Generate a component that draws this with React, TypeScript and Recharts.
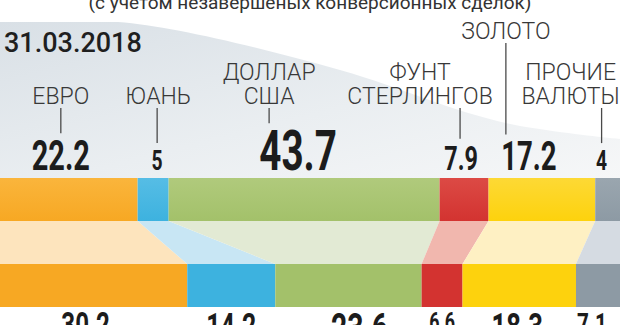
import { BarChart, Bar, XAxis, YAxis, LabelList } from "recharts";

// shares of reserves, %, by period (top row = 31.03.2018)
const periods = ["31.03.2018", "30.06.2018"];
const euro = [22.2, 30.2];
const yuan = [5, 14.2];
const dollar = [43.7, 23.6];
const pound = [7.9, 6.6];
const gold = [17.2, 18.3];
const other = [4, 7.1];

const seriesKeys = ["euro", "yuan", "dollar", "pound", "gold", "other"];
const seriesValues = [euro, yuan, dollar, pound, gold, other];
const currencyNames = [["ЕВРО"], ["ЮАНЬ"], ["ДОЛЛАР", "США"], ["ФУНТ", "СТЕРЛИНГОВ"], ["ЗОЛОТО"], ["ПРОЧИЕ", "ВАЛЮТЫ"]];
const subtitle = "(с учетом незавершеных конверсионных сделок)";

const rows = periods.map((period, i) => {
  const row: any = { period };
  seriesKeys.forEach((k, s) => (row[k] = seriesValues[s][i]));
  return row;
});

// look of each series (colours, label offsets and sizes)
const STYLE = [
  { fill: "#f7a823", light: "#fab53c", pale: "#fde4bd", nameDx: -8, nameBase: 104, leadDx: -8, valDx: -8, topSize: 42, lowDx: -8, lowSize: 35 },
  { fill: "#3db2df", light: "#56bde5", pale: "#c8e6f4", nameDx: 5, nameBase: 104, leadDx: 4, valDx: 4, topSize: 28, lowDx: 0, lowSize: 36 },
  { fill: "#a3c16a", light: "#b0ca7c", pale: "#e2ead4", nameDx: -35, nameBase: 104, leadDx: -35, valDx: -6, topSize: 56, lowDx: 11, lowSize: 41 },
  { fill: "#d33330", light: "#dc4a45", pale: "#f1b7ae", nameDx: -44, nameBase: 104, leadDx: -4, valDx: -3, topSize: 34, lowDx: 0, lowSize: 26 },
  { fill: "#fdd20d", light: "#fdd935", pale: "#fef0c3", nameDx: -36, nameBase: 39, leadDx: -36, valDx: -13, topSize: 40, lowDx: -2, lowSize: 37 },
  { fill: "#8d9aa4", light: "#9aa6af", pale: "#d5dbe2", nameDx: -37, nameBase: 104, leadDx: -6, valDx: -6, topSize: 28, lowDx: -6, lowSize: 30 },
];

const W = 620;
const H = 340;
const M = { top: 156, right: 0, bottom: 12, left: 0 };
const BAR = 43;
const BAND = (H - M.top - M.bottom) / periods.length;
const GAP = BAND - BAR;
const FONT = "Roboto, 'Noto Sans', sans-serif";
const CAP = 0.711;

const cumBefore = (s: number, row: number) =>
  seriesValues.slice(0, s).reduce((a, v) => a + v[row], 0);

const makeShape = (s: number) => (p: any) => {
  const { x, y, width, height, index } = p;
  const st = STYLE[s];
  let bridge = null;
  if (index === 0) {
    // link this segment to the same currency in the next period
    const ppu = width / seriesValues[s][0];
    const origin = x - cumBefore(s, 0) * ppu;
    const nx0 = origin + cumBefore(s, 1) * ppu;
    const nx1 = nx0 + seriesValues[s][1] * ppu;
    const yb = y + height;
    bridge = (
      <polygon
        points={`${x},${yb} ${x + width},${yb} ${nx1},${yb + GAP} ${nx0},${yb + GAP}`}
        fill={st.pale}
      />
    );
  }
  return (
    <g>
      {bridge}
      <rect x={x} y={y} width={width} height={height} fill={index === 0 ? `url(#seg${s})` : st.fill} />
    </g>
  );
};

const makeLabel = (s: number) => (p: any) => {
  const vb = p.viewBox || p;
  const cx = vb.x + vb.width / 2;
  const st = STYLE[s];
  const text = String(p.value);
  if (p.index === 0) {
    const base = vb.y - 8;
    const cap = st.topSize * CAP;
    const names = currencyNames[s];
    return (
      <g fontFamily={FONT}>
        {names.map((n, k) => (
          <text
            key={k}
            x={cx + st.nameDx}
            y={st.nameBase - (names.length - 1 - k) * 24}
            textAnchor="middle"
            fontSize={23}
            fontWeight={300}
            fill="#383838"
          >
            {n}
          </text>
        ))}
        <line
          x1={cx + st.leadDx}
          x2={cx + st.leadDx}
          y1={st.nameBase + 4}
          y2={base - cap - 7}
          stroke="#4a4a4a"
          strokeWidth={1.3}
        />
        <text
          transform={`translate(${cx + st.valDx},${base}) scale(0.69,1)`}
          textAnchor="middle"
          fontSize={st.topSize}
          fontWeight={700}
          fill="#1c1c1c"
        >
          {text}
        </text>
      </g>
    );
  }
  const base = vb.y + vb.height + 5.5 + st.lowSize * CAP;
  return (
    <text
      transform={`translate(${cx + st.lowDx},${base}) scale(0.69,1)`}
      textAnchor="middle"
      fontFamily={FONT}
      fontSize={st.lowSize}
      fontWeight={700}
      fill="#1c1c1c"
    >
      {text}
    </text>
  );
};

function Backdrop() {
  return (
    <svg width={W} height={325} style={{ position: "absolute", left: 0, top: 0 }}>
      <defs>
        <linearGradient id="shade" x1="0" y1="0" x2="1" y2="1">
          <stop offset="0" stopColor="#d9e0e6" />
          <stop offset="0.55" stopColor="#eaeef1" />
          <stop offset="1" stopColor="#f6f7f8" />
        </linearGradient>
        {STYLE.map((st, s) => (
          <linearGradient key={s} id={`seg${s}`} x1="0" y1="0" x2="0" y2="1">
            <stop offset="0" stopColor={st.light} />
            <stop offset="1" stopColor={st.fill} />
          </linearGradient>
        ))}
      </defs>
      <path
        d="M0,22 L118,22 C170,26 250,45 340,70 C410,90 450,112 520,126 C570,134 600,137 620,139 L620,178 L0,178 Z"
        fill="url(#shade)"
      />
      <text x={310} y={9} textAnchor="middle" fontFamily={FONT} fontSize={19} fill="#333">
        {subtitle}
      </text>
      <text x={4} y={52} fontFamily={FONT} fontSize={27} fontWeight={500} fill="#1f1f1f">
        {periods[0]}
      </text>
    </svg>
  );
}

export default function App() {
  return (
    <div
      style={{
        position: "absolute",
        left: 0,
        top: 0,
        width: W,
        height: 325,
        overflow: "hidden",
        background: "#fff",
        fontFamily: FONT,
      }}
    >
      <Backdrop />
      <div style={{ position: "absolute", left: 0, top: 0 }}>
        <BarChart width={W} height={H} data={rows} layout="vertical" margin={M} barSize={BAR}>
          <XAxis type="number" domain={[0, 100]} hide />
          <YAxis type="category" dataKey="period" hide />
          {seriesKeys.map((k, s) => (
            <Bar
              key={k}
              dataKey={k}
              stackId="share"
              fill={STYLE[s].fill}
              shape={makeShape(s)}
              isAnimationActive={false}
            >
              <LabelList dataKey={k} content={makeLabel(s)} />
            </Bar>
          ))}
        </BarChart>
      </div>
    </div>
  );
}
